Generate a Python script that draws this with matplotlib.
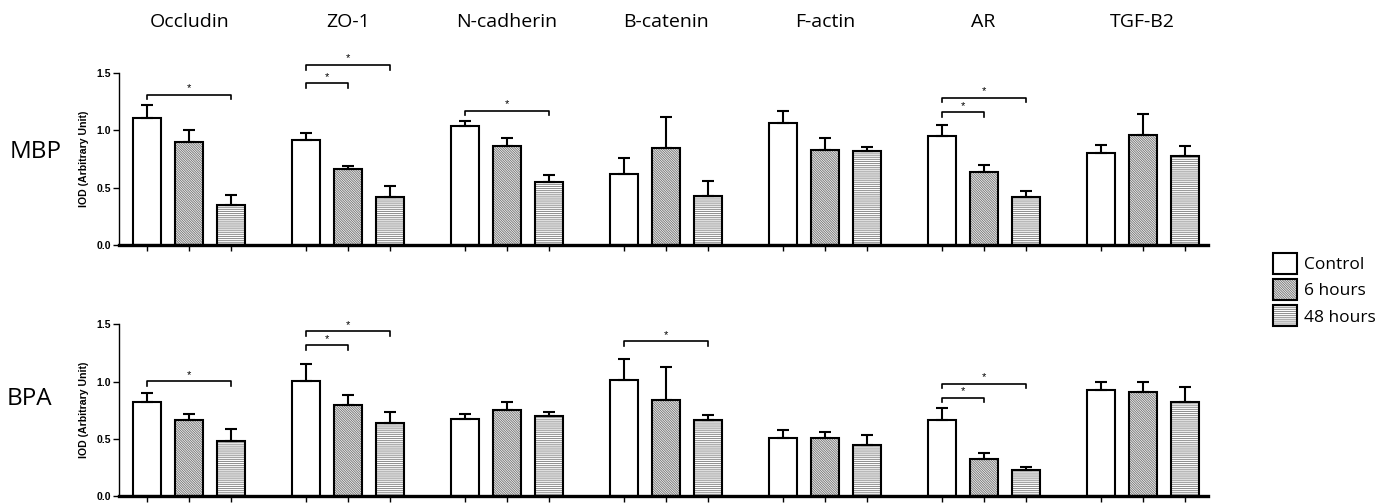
import numpy as np
import matplotlib
matplotlib.use('Agg')
import matplotlib.pyplot as plt
from matplotlib.patches import Patch
from matplotlib.transforms import blended_transform_factory

groups = ['Occludin', 'ZO-1', 'N-cadherin', 'B-catenin', 'F-actin', 'AR', 'TGF-B2']
conditions = ['Control', '6 hours', '48 hours']
rows = ['MBP', 'BPA']

# MBP row
mbp_control = [1.11, 0.915, 1.04, 0.62, 1.06, 0.95, 0.80]
mbp_control_err = [0.11, 0.065, 0.045, 0.14, 0.105, 0.10, 0.07]
mbp_6h = [0.90, 0.66, 0.86, 0.85, 0.83, 0.64, 0.96]
mbp_6h_err = [0.105, 0.027, 0.07, 0.27, 0.10, 0.06, 0.18]
mbp_48h = [0.345, 0.42, 0.55, 0.425, 0.82, 0.42, 0.78]
mbp_48h_err = [0.09, 0.093, 0.06, 0.13, 0.037, 0.05, 0.08]

# BPA row
bpa_control = [0.82, 1.005, 0.67, 1.01, 0.505, 0.66, 0.93]
bpa_control_err = [0.077, 0.147, 0.047, 0.185, 0.07, 0.113, 0.07]
bpa_6h = [0.66, 0.795, 0.75, 0.84, 0.505, 0.325, 0.91]
bpa_6h_err = [0.06, 0.09, 0.073, 0.285, 0.052, 0.05, 0.088]
bpa_48h = [0.48, 0.635, 0.70, 0.66, 0.445, 0.23, 0.82]
bpa_48h_err = [0.105, 0.096, 0.032, 0.052, 0.087, 0.023, 0.134]

# significance brackets: (group index, from condition, to condition, height)
mbp_sig = [(0, 0, 2, 1.31), (1, 0, 1, 1.41), (1, 0, 2, 1.57),
           (2, 0, 2, 1.17), (5, 0, 1, 1.157), (5, 0, 2, 1.284)]
bpa_sig = [(0, 0, 2, 1.004), (1, 0, 1, 1.316), (1, 0, 2, 1.438),
           (3, 0, 2, 1.351), (5, 0, 1, 0.859), (5, 0, 2, 0.981)]

row_data = {
  'MBP': ([mbp_control, mbp_6h, mbp_48h], [mbp_control_err, mbp_6h_err, mbp_48h_err], mbp_sig),
  'BPA': ([bpa_control, bpa_6h, bpa_48h], [bpa_control_err, bpa_6h_err, bpa_48h_err], bpa_sig),
}

hatches = ['', '\\' * 14, '-' * 8]
hatch_colors = ['white', '#7a7a7a', '#8c8c8c']
offsets = [-0.264, 0.0, 0.264]
barWidth = 0.176

plt.rcParams['hatch.linewidth'] = 0.7
axisFont = 'Liberation Sans'
labelFont = 'Open Sans'

fig = plt.figure(figsize=(13.86, 5.04), dpi=100)
axTop = fig.add_axes([0.0859, 0.5139, 0.7857, 0.3413])
axBot = fig.add_axes([0.0859, 0.0159, 0.7857, 0.3406])

x = np.arange(len(groups))

for ax, rowName in zip([axTop, axBot], rows):
  means, errs, sigs = row_data[rowName]
  for c in range(3):
    xs = x + offsets[c]
    # hatch layer, then black outline on top
    ax.bar(xs, means[c], width=barWidth, color='white', hatch=hatches[c],
           edgecolor=hatch_colors[c], linewidth=0, zorder=2)
    ax.bar(xs, means[c], width=barWidth, fill=False, edgecolor='black',
           linewidth=1.5, zorder=3)
    ax.errorbar(xs, means[c], yerr=[np.zeros(len(groups)), errs[c]], fmt='none',
                ecolor='black', elinewidth=1.5, capsize=4, capthick=1.5, zorder=4)

  for g, c1, c2, h in sigs:
    x1 = g + offsets[c1]
    x2 = g + offsets[c2]
    ax.plot([x1, x1, x2, x2], [h - 0.04, h, h, h - 0.04], color='black',
            linewidth=1.2, clip_on=False, zorder=5)
    ax.text((x1 + x2) / 2, h + 0.012, '*', ha='center', va='bottom',
            fontsize=8, family=axisFont, clip_on=False)

  ax.set_xlim(-0.441, 6.412)
  ax.set_ylim(0, 1.5)
  ax.set_yticks([0, 0.5, 1.0, 1.5])
  ax.set_yticklabels(['0.0', '0.5', '1.0', '1.5'], fontsize=7.5, fontweight='bold',
                     family=axisFont)
  ax.set_xticks(np.concatenate([x + o for o in offsets]))
  ax.set_xticklabels([])
  ax.tick_params(axis='x', length=4, width=1, direction='out')
  ax.tick_params(axis='y', length=4, width=1, direction='out', pad=2)
  ax.spines['top'].set_visible(False)
  ax.spines['right'].set_visible(False)
  ax.spines['left'].set_linewidth(1.0)
  ax.spines['bottom'].set_linewidth(2.4)
  ax.set_ylabel('IOD (Arbitrary Unit)', fontsize=7.6, fontweight='bold',
                family=axisFont, labelpad=5)

# row labels
fig.text(0.007, 0.699, 'MBP', fontsize=17.5, family=labelFont, va='center', ha='left')
fig.text(0.005, 0.208, 'BPA', fontsize=17.5, family=labelFont, va='center', ha='left')

# column titles
trans = blended_transform_factory(axTop.transData, fig.transFigure)
for i, name in enumerate(groups):
  axTop.text(x[i], 0.956, name, transform=trans, ha='center', va='center',
             fontsize=14, family=labelFont)

handles = [(Patch(facecolor='white', edgecolor=hatch_colors[i], hatch=hatches[i], linewidth=0),
            Patch(fill=False, edgecolor='black', linewidth=1.5))
           for i in range(3)]
leg = fig.legend(handles, conditions, loc='center left', bbox_to_anchor=(0.912, 0.4256),
                 frameon=False, borderpad=0, handlelength=1.38, handleheight=1.5,
                 handletextpad=0.4, labelspacing=0.3, prop={'family': labelFont, 'size': 12.5})

plt.savefig('out.png', dpi=100)
plt.close()
